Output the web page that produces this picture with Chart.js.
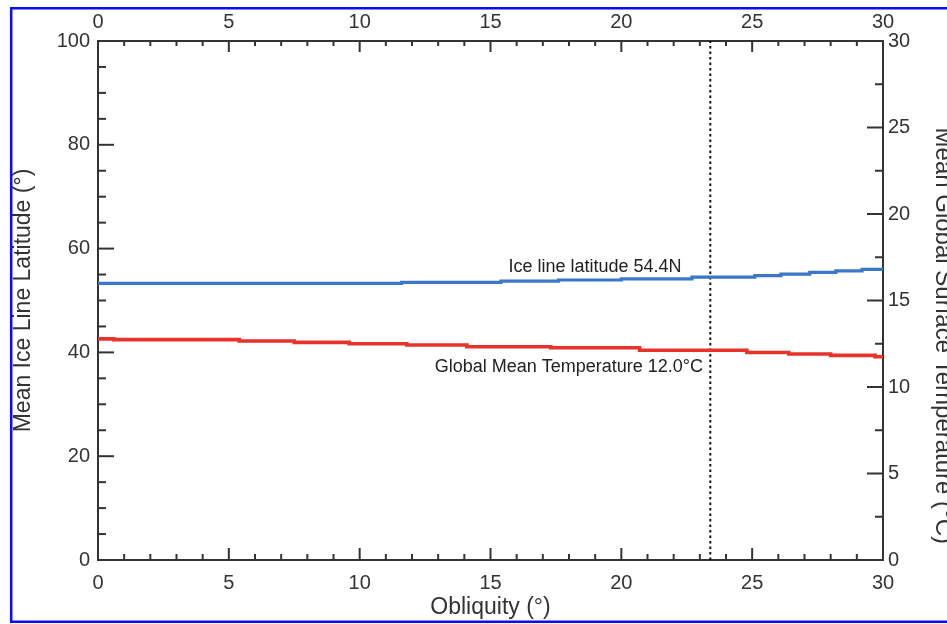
<!DOCTYPE html>
<html>
<head>
<meta charset="utf-8">
<script src="https://cdn.jsdelivr.net/npm/chart.js@4.4.1/dist/chart.umd.min.js"></script>
<style>
  html, body { margin: 0; padding: 0; background: #fff; overflow: hidden; }
  #chart { position: absolute; left: 0; top: 0; }
</style>
</head>
<body>
<canvas id="chart" width="960" height="624"></canvas>
<script>
// ice line latitude (deg), left axis, step positions along obliquity
const iceObliquity = [0, 11.6, 15.4, 17.6, 20.0, 22.7, 25.1, 26.1, 27.2, 28.2, 29.2, 30];
const iceLatitude = [53.3, 53.5, 53.75, 53.95, 54.15, 54.5, 54.8, 55.1, 55.4, 55.7, 56.0, 56.0];

// global mean temperature (deg C), right axis
const tempObliquity = [0, 0.6, 5.4, 7.5, 9.6, 11.8, 14.1, 17.3, 20.7, 24.8, 26.4, 28.0, 29.7, 30];
const tempCelsius = [12.78, 12.74, 12.66, 12.58, 12.5, 12.43, 12.33, 12.27, 12.12, 11.99, 11.91, 11.83, 11.75, 11.75];

const presentObliquity = 23.4;

const obliquityLabels = [0, 5, 10, 15, 20, 25, 30];
const latitudeLabels = [0, 20, 40, 60, 80, 100];
const temperatureLabels = [0, 5, 10, 15, 20, 25, 30];

const iceNote = "Ice line latitude 54.4N";
const tempNote = "Global Mean Temperature 12.0°C";
const rightTitle = "Mean Global Surface Temperature (°C)";

const FONT = '"Liberation Sans", Arial, Helvetica, sans-serif';
const AXIS = "#333";

Chart.defaults.font.family = FONT;
Chart.defaults.color = AXIS;

const toPoints = (xs, ys) => xs.map((x, i) => ({ x: x, y: ys[i] }));
const labelIf = (list) => (v) => (list.includes(v) ? String(v) : "");

// IDL-style inward tick marks, notes, the right-hand title and the blue frame
const decorations = {
  id: "decorations",
  afterDraw(chart) {
    const { ctx, chartArea: a, scales, width, height } = chart;
    const lengths = { x: [12, 6], x2: [11, 5], y: [16, 8], y2: [16, 8] };

    ctx.save();
    ctx.strokeStyle = AXIS;
    ctx.lineWidth = 2;
    Object.keys(lengths).forEach((id) => {
      const s = scales[id];
      s.ticks.forEach((t) => {
        const len = t.label !== "" ? lengths[id][0] : lengths[id][1];
        const p = s.getPixelForValue(t.value);
        ctx.beginPath();
        if (id === "x") { ctx.moveTo(p, a.bottom); ctx.lineTo(p, a.bottom - len); }
        if (id === "x2") { ctx.moveTo(p, a.top); ctx.lineTo(p, a.top + len); }
        if (id === "y") { ctx.moveTo(a.left, p); ctx.lineTo(a.left + len, p); }
        if (id === "y2") { ctx.moveTo(a.right, p); ctx.lineTo(a.right - len, p); }
        ctx.stroke();
      });
    });

    ctx.fillStyle = "#222";
    ctx.font = "18px " + FONT;
    ctx.textAlign = "right";
    ctx.textBaseline = "middle";
    ctx.fillText(iceNote, scales.x.getPixelForValue(22.3), scales.y.getPixelForValue(56.45));
    ctx.fillText(tempNote, scales.x.getPixelForValue(23.12), scales.y2.getPixelForValue(11.13));

    // figure frame: open on the right, like the cropped original
    ctx.strokeStyle = "#0a0aff";
    ctx.lineWidth = 2.5;
    ctx.beginPath();
    ctx.moveTo(width, 8.2);
    ctx.lineTo(11.2, 8.2);
    ctx.lineTo(11.2, height - 2.2);
    ctx.lineTo(width, height - 2.2);
    ctx.stroke();

    ctx.fillStyle = AXIS;
    ctx.font = "24px " + FONT;
    ctx.textAlign = "center";
    ctx.translate(a.right + 60, a.top + (a.bottom - a.top) * 0.568);
    ctx.rotate(Math.PI / 2);
    ctx.fillText(rightTitle, 0, 0);
    ctx.restore();
  },
};

const tickFont = { size: 20 };
const titleFont = { size: 23 };
const hiddenGrid = { drawOnChartArea: false, drawTicks: false };
const axisBorder = { display: true, color: AXIS, width: 2 };

new Chart(document.getElementById("chart"), {
  type: "line",
  data: {
    datasets: [
      {
        data: toPoints(iceObliquity, iceLatitude),
        yAxisID: "y",
        borderColor: "#3a77c8",
        borderWidth: 3.2,
        stepped: "before",
        fill: false,
      },
      {
        data: toPoints(tempObliquity, tempCelsius),
        yAxisID: "y2",
        borderColor: "#e8332a",
        borderWidth: 3.6,
        stepped: "before",
        fill: false,
      },
      {
        data: toPoints([presentObliquity, presentObliquity], [0, 100]),
        yAxisID: "y",
        borderColor: "#111",
        borderWidth: 2,
        borderDash: [2.5, 3],
        fill: false,
      },
    ],
  },
  options: {
    responsive: false,
    animation: false,
    layout: { padding: 0 },
    elements: { point: { radius: 0 } },
    plugins: { legend: { display: false }, tooltip: { enabled: false } },
    scales: {
      x: {
        type: "linear",
        position: "bottom",
        min: 0,
        max: 30,
        grid: hiddenGrid,
        border: axisBorder,
        ticks: { stepSize: 1, autoSkip: false, maxRotation: 0, padding: 11, font: tickFont, callback: labelIf(obliquityLabels) },
        title: { display: true, text: "Obliquity (°)", font: titleFont, padding: { top: 0, bottom: 3 } },
        afterFit: (s) => { s.height = 64; },
      },
      x2: {
        type: "linear",
        position: "top",
        min: 0,
        max: 30,
        grid: hiddenGrid,
        border: axisBorder,
        ticks: { stepSize: 1, autoSkip: false, maxRotation: 0, padding: 7, font: tickFont, callback: labelIf(obliquityLabels) },
        afterFit: (s) => { s.height = 41; },
      },
      y: {
        type: "linear",
        position: "left",
        min: 0,
        max: 100,
        grid: hiddenGrid,
        border: axisBorder,
        ticks: { stepSize: 5, autoSkip: false, padding: 8, font: tickFont, callback: labelIf(latitudeLabels) },
        title: { display: true, text: "Mean Ice Line Latitude (°)", font: titleFont, padding: { top: 10, bottom: 0 } },
        afterFit: (s) => { s.width = 98; },
      },
      y2: {
        type: "linear",
        position: "right",
        min: 0,
        max: 30,
        grid: hiddenGrid,
        border: axisBorder,
        ticks: { stepSize: 2.5, autoSkip: false, padding: 5, font: tickFont, callback: labelIf(temperatureLabels) },
        afterFit: (s) => { s.width = 77; },
      },
    },
  },
  plugins: [decorations],
});
</script>
</body>
</html>
